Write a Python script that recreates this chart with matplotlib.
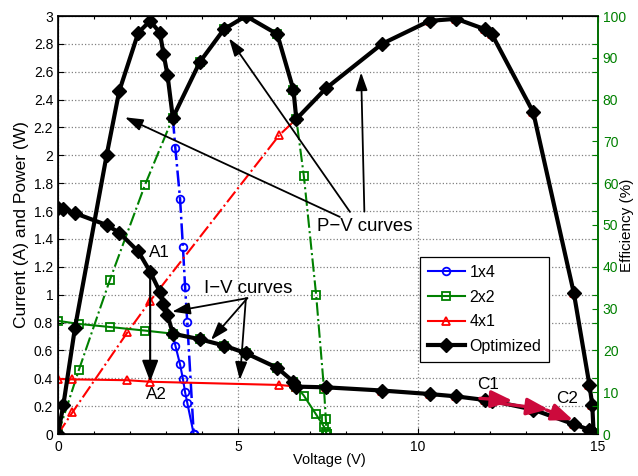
import matplotlib
matplotlib.use("Agg")
import matplotlib.pyplot as plt
from matplotlib.lines import Line2D
from matplotlib.ticker import FixedLocator, FuncFormatter

plt.rcParams["font.family"] = ["Liberation Sans", "DejaVu Sans"]

# Optimized configuration (black diamonds)
v_opt = [0, 0.15, 0.47, 1.35, 1.70, 2.23, 2.56, 2.83, 2.93, 3.04, 3.19, 3.94, 4.61, 5.22,
         6.09, 6.54, 6.62, 7.44, 9.00, 10.32, 11.06, 11.86, 12.05, 13.20, 14.33, 14.76,
         14.84, 14.88]
i_opt = [1.62, 1.615, 1.585, 1.50, 1.445, 1.31, 1.165, 1.02, 0.93, 0.855, 0.72, 0.68, 0.635,
         0.58, 0.475, 0.375, 0.34, 0.335, 0.312, 0.287, 0.27, 0.244, 0.238, 0.175, 0.07,
         0.03, 0.014, 0]
p_opt = [0, 0.21, 0.76, 2.0, 2.46, 2.88, 2.965, 2.88, 2.73, 2.58, 2.27, 2.67, 2.905, 3.0,
         2.87, 2.47, 2.26, 2.48, 2.80, 2.965, 2.98, 2.905, 2.87, 2.31, 1.01, 0.355, 0.21, 0]

# 1x4 configuration (blue circles)
v_1x4 = [3.19, 3.26, 3.39, 3.47, 3.53, 3.59, 3.77]
i_1x4 = [0.72, 0.635, 0.50, 0.395, 0.30, 0.225, 0]
p_1x4 = [2.27, 2.05, 1.69, 1.345, 1.057, 0.806, 0]

# 2x2 configuration (green squares)
v_2x2 = [0, 0.58, 1.44, 2.42, 3.19, 3.94, 4.61, 5.22, 6.09, 6.54, 6.62, 6.83, 7.17, 7.39,
         7.44, 7.46]
i_2x2 = [0.812, 0.79, 0.768, 0.742, 0.72, 0.68, 0.635, 0.58, 0.475, 0.375, 0.34, 0.275,
         0.14, 0.052, 0.017, 0]
p_2x2 = [0, 0.46, 1.105, 1.79, 2.27, 2.67, 2.905, 3.0, 2.87, 2.47, 2.26, 1.85, 1.0, 0.32,
         0.105, 0]

# 4x1 configuration (red triangles)
v_4x1 = [0, 0.40, 1.93, 2.56, 6.15, 6.62, 7.44, 9.00, 10.32, 11.06, 11.86, 12.05, 13.20,
         14.33, 14.76, 14.84, 14.88]
i_4x1 = [0.395, 0.392, 0.386, 0.375, 0.352, 0.34, 0.335, 0.312, 0.287, 0.27, 0.244, 0.238,
         0.175, 0.07, 0.03, 0.014, 0]
p_4x1 = [0, 0.155, 0.73, 0.955, 2.146, 2.26, 2.48, 2.80, 2.965, 2.98, 2.905, 2.87, 2.31,
         1.01, 0.355, 0.21, 0]

x_ticks = [0, 5, 10, 15]
y_ticks = [round(0.2 * k, 1) for k in range(16)]
eff_ticks = list(range(0, 101, 10))

BLUE = "#0000ff"
GREEN = "#008000"
RED = "#ff0000"
CRIMSON = "#cc0a3c"

fig = plt.figure(figsize=(6.38, 4.76), dpi=100)
ax = fig.add_axes([58 / 638, 42 / 476, 540 / 638, 418 / 476])

mk = dict(markersize=5.5, markeredgewidth=1.3, markerfacecolor="none")

# P-V curves (dash-dot)
ax.plot(v_1x4, p_1x4, "-.", color=BLUE, lw=1.8, marker="o", **mk)
ax.plot(v_2x2, p_2x2, "-.", color=GREEN, lw=1.5, marker="s", **mk)
ax.plot(v_4x1, p_4x1, "-.", color=RED, lw=1.5, marker="^", **mk)
# I-V curves (solid)
ax.plot(v_1x4, i_1x4, "-", color=BLUE, lw=1.5, marker="o", **mk)
ax.plot(v_2x2, i_2x2, "-", color=GREEN, lw=1.5, marker="s", **mk)
ax.plot(v_4x1, i_4x1, "-", color=RED, lw=1.5, marker="^", **mk)
# Optimized
ax.plot(v_opt, p_opt, "-", color="k", lw=3, marker="D", markersize=7.5)
ax.plot(v_opt, i_opt, "-", color="k", lw=3, marker="D", markersize=7.5)

ax.set_xlim(0, 15)
ax.set_ylim(0, 3)
ax.set_xticks(x_ticks)
ax.xaxis.set_minor_locator(FixedLocator(range(16)))
ax.set_yticks(y_ticks)
ax.yaxis.set_major_formatter(FuncFormatter(lambda v, p: f"{v:g}"))
ax.tick_params(which="both", direction="in", top=True, labelsize=10)
ax.tick_params(which="major", length=4, width=0.8)
ax.tick_params(which="minor", length=2.5, width=0.8)
ax.tick_params(axis="y", pad=3.5)
ax.tick_params(axis="x", pad=4)
ax.grid(True, which="major", linestyle=":", color="#808080", lw=0.9)
for s in ax.spines.values():
    s.set_linewidth(1.2)

ax2 = ax.twinx()
ax2.set_ylim(0, 100)
ax2.set_yticks(eff_ticks)
ax2.yaxis.set_minor_locator(FixedLocator([v / 3 * 100 for v in y_ticks]))
ax2.tick_params(which="both", direction="in", colors=GREEN, labelsize=10, pad=3.5)
ax2.tick_params(which="major", length=4, width=0.8)
ax2.tick_params(which="minor", length=4, width=0.8)
ax2.spines["right"].set_color(GREEN)
ax2.spines["right"].set_linewidth(1.2)

fig.text(22 / 638, 1 - 225 / 476, "Current (A) and Power (W)", rotation=90,
         ha="center", va="center", fontsize=12.5)
fig.text(329 / 638, 1 - 460 / 476, "Voltage (V)", ha="center", va="center", fontsize=10.5)
fig.text(627 / 638, 1 - 225 / 476, "Efficiency (%)", rotation=90,
         ha="center", va="center", fontsize=11)

thin = dict(arrowstyle="-|>,head_length=0.9,head_width=0.3", mutation_scale=12,
            lw=1.3, color="k", shrinkA=0, shrinkB=0)

# P-V annotations
ax.text(8.53, 1.487, "P\u2212V curves", ha="center", va="center", fontsize=13.4)
ax.annotate("", xy=(1.86, 2.273), xytext=(7.83, 1.558), arrowprops=thin)
ax.annotate("", xy=(4.75, 2.84), xytext=(8.11, 1.594), arrowprops=thin)
ax.annotate("", xy=(8.42, 2.595), xytext=(8.51, 1.596), arrowprops=thin)

# I-V annotations
ax.text(5.29, 1.046, "I\u2212V curves", ha="center", va="center", fontsize=13.4)
ax.annotate("", xy=(3.17, 0.878), xytext=(5.26, 0.975), arrowprops=thin)
ax.annotate("", xy=(4.25, 0.675), xytext=(5.26, 0.975), arrowprops=thin)
ax.annotate("", xy=(5.05, 0.388), xytext=(5.22, 0.975), arrowprops=thin)

# A1 -> A2
ax.text(2.83, 1.30, "A1", ha="center", va="center", fontsize=12.3)
ax.text(2.74, 0.28, "A2", ha="center", va="center", fontsize=12.3)
ax.annotate("", xy=(2.56, 0.375), xytext=(2.56, 1.165),
            arrowprops=dict(arrowstyle="-|>,head_length=1.0,head_width=0.38",
                            mutation_scale=13, lw=1.5, color="k", shrinkA=0, shrinkB=0))

# C1 -> C2
ax.text(11.95, 0.352, "C1", ha="center", va="center", fontsize=12.3)
ax.text(14.13, 0.256, "C2", ha="center", va="center", fontsize=12.3)
thick = dict(arrowstyle="-|>,head_length=1.0,head_width=0.4", mutation_scale=13,
             lw=2.4, color=CRIMSON, shrinkA=0, shrinkB=0)
ax.annotate("", xy=(12.63, 0.239), xytext=(11.72, 0.256), arrowprops=thick)
ax.annotate("", xy=(13.62, 0.177), xytext=(12.28, 0.22), arrowprops=thick)
ax.annotate("", xy=(14.31, 0.10), xytext=(13.57, 0.172), arrowprops=thick)

handles = [
    Line2D([], [], color=BLUE, lw=1.5, marker="o", **mk),
    Line2D([], [], color=GREEN, lw=1.5, marker="s", **mk),
    Line2D([], [], color=RED, lw=1.5, marker="^", **mk),
    Line2D([], [], color="k", lw=3, marker="D", markersize=7.5),
]
leg = ax.legend(handles, ["1x4", "2x2", "4x1", "Optimized"], loc="upper left",
                bbox_to_anchor=(0.6556, 0.4426), fontsize=11.5, handlelength=2.3,
                labelspacing=0.6, borderpad=0.5, handletextpad=0.3,
                fancybox=False, framealpha=1, edgecolor="k")
leg.get_frame().set_linewidth(0.9)
leg.set_zorder(5)

fig.savefig("out.png", dpi=100)
